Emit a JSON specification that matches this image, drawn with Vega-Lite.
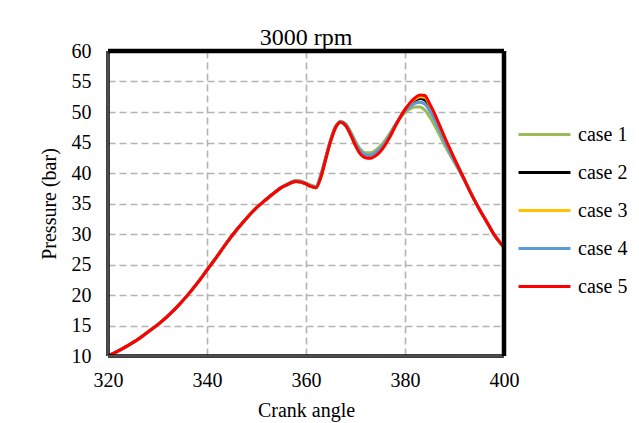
{
  "$schema": "https://vega.github.io/schema/vega-lite/v6.json",
  "autosize": "none",
  "width": 396,
  "height": 305,
  "padding": {"left": 108, "top": 51, "right": 135, "bottom": 67},
  "background": "white",
  "title": {"text": "3000 rpm", "font": "Liberation Serif", "fontSize": 24, "fontWeight": "normal", "color": "black", "offset": -9},
  "config": {
    "view": {"stroke": null},
    "axis": {
      "labelFont": "Liberation Serif", "labelFontSize": 20, "labelColor": "black",
      "titleFont": "Liberation Serif", "titleFontSize": 20, "titleFontWeight": "normal", "titleColor": "black",
      "domain": false, "ticks": false, "labelOverlap": false, "labelFlush": false,
      "gridColor": "#b3b3b3", "gridDash": [7, 4], "gridWidth": 1.6
    },
    "axisX": {"labelPadding": 14, "titlePadding": 10, "tickCount": 4},
    "axisY": {"labelPadding": 17, "titlePadding": 12, "tickCount": 11},
    "legend": {"labelFont": "Liberation Serif", "labelFontSize": 20, "labelColor": "black"}
  },
  "datasets": {
    "curves": [
      {"x": 320, "case 1": 10, "case 2": 10, "case 3": 10, "case 4": 10, "case 5": 10},
      {"x": 322, "case 1": 10.8, "case 2": 10.8, "case 3": 10.8, "case 4": 10.8, "case 5": 10.8},
      {"x": 324, "case 1": 11.7, "case 2": 11.7, "case 3": 11.7, "case 4": 11.7, "case 5": 11.7},
      {"x": 326, "case 1": 12.7, "case 2": 12.7, "case 3": 12.7, "case 4": 12.7, "case 5": 12.7},
      {"x": 328, "case 1": 13.9, "case 2": 13.9, "case 3": 13.9, "case 4": 13.9, "case 5": 13.9},
      {"x": 330, "case 1": 15.1, "case 2": 15.1, "case 3": 15.1, "case 4": 15.1, "case 5": 15.1},
      {"x": 332, "case 1": 16.5, "case 2": 16.5, "case 3": 16.5, "case 4": 16.5, "case 5": 16.5},
      {"x": 334, "case 1": 18.1, "case 2": 18.1, "case 3": 18.1, "case 4": 18.1, "case 5": 18.1},
      {"x": 336, "case 1": 19.9, "case 2": 19.9, "case 3": 19.9, "case 4": 19.9, "case 5": 19.9},
      {"x": 338, "case 1": 21.9, "case 2": 21.9, "case 3": 21.9, "case 4": 21.9, "case 5": 21.9},
      {"x": 340, "case 1": 24.1, "case 2": 24.1, "case 3": 24.1, "case 4": 24.1, "case 5": 24.1},
      {"x": 342, "case 1": 26.3, "case 2": 26.3, "case 3": 26.3, "case 4": 26.3, "case 5": 26.3},
      {"x": 344, "case 1": 28.6, "case 2": 28.6, "case 3": 28.6, "case 4": 28.6, "case 5": 28.6},
      {"x": 346, "case 1": 30.7, "case 2": 30.7, "case 3": 30.7, "case 4": 30.7, "case 5": 30.7},
      {"x": 348, "case 1": 32.6, "case 2": 32.6, "case 3": 32.6, "case 4": 32.6, "case 5": 32.6},
      {"x": 350, "case 1": 34.3, "case 2": 34.3, "case 3": 34.3, "case 4": 34.3, "case 5": 34.3},
      {"x": 352, "case 1": 35.7, "case 2": 35.7, "case 3": 35.7, "case 4": 35.7, "case 5": 35.7},
      {"x": 354, "case 1": 37.0, "case 2": 37.0, "case 3": 37.0, "case 4": 37.0, "case 5": 37.0},
      {"x": 355, "case 1": 37.6, "case 2": 37.6, "case 3": 37.6, "case 4": 37.6, "case 5": 37.6},
      {"x": 356, "case 1": 38.1, "case 2": 38.0, "case 3": 38.0, "case 4": 38.0, "case 5": 38.0},
      {"x": 357, "case 1": 38.5, "case 2": 38.4, "case 3": 38.4, "case 4": 38.5, "case 5": 38.4},
      {"x": 358, "case 1": 38.8, "case 2": 38.6, "case 3": 38.6, "case 4": 38.7, "case 5": 38.6},
      {"x": 359, "case 1": 38.7, "case 2": 38.5, "case 3": 38.5, "case 4": 38.6, "case 5": 38.5},
      {"x": 360, "case 1": 38.4, "case 2": 38.2, "case 3": 38.2, "case 4": 38.3, "case 5": 38.2},
      {"x": 361, "case 1": 38.0, "case 2": 37.8, "case 3": 37.8, "case 4": 37.9, "case 5": 37.8},
      {"x": 362, "case 1": 37.8, "case 2": 37.6, "case 3": 37.6, "case 4": 37.7, "case 5": 37.6},
      {"x": 363, "case 1": 39.8, "case 2": 39.4, "case 3": 39.3, "case 4": 39.6, "case 5": 39.3},
      {"x": 364, "case 1": 42.7, "case 2": 42.4, "case 3": 42.3, "case 4": 42.5, "case 5": 42.3},
      {"x": 365, "case 1": 45.6, "case 2": 45.3, "case 3": 45.3, "case 4": 45.4, "case 5": 45.3},
      {"x": 366, "case 1": 47.7, "case 2": 47.5, "case 3": 47.5, "case 4": 47.6, "case 5": 47.5},
      {"x": 367, "case 1": 48.5, "case 2": 48.3, "case 3": 48.3, "case 4": 48.4, "case 5": 48.3},
      {"x": 368, "case 1": 48.1, "case 2": 47.8, "case 3": 47.8, "case 4": 48.0, "case 5": 47.8},
      {"x": 369, "case 1": 46.8, "case 2": 46.4, "case 3": 46.3, "case 4": 46.6, "case 5": 46.3},
      {"x": 370, "case 1": 45.2, "case 2": 44.6, "case 3": 44.5, "case 4": 44.9, "case 5": 44.5},
      {"x": 371, "case 1": 43.9, "case 2": 43.2, "case 3": 43.1, "case 4": 43.6, "case 5": 43.1},
      {"x": 372, "case 1": 43.3, "case 2": 42.7, "case 3": 42.6, "case 4": 43.0, "case 5": 42.5},
      {"x": 373, "case 1": 43.3, "case 2": 42.6, "case 3": 42.5, "case 4": 42.9, "case 5": 42.4},
      {"x": 374, "case 1": 43.7, "case 2": 43.0, "case 3": 42.9, "case 4": 43.3, "case 5": 42.8},
      {"x": 375, "case 1": 44.4, "case 2": 43.7, "case 3": 43.6, "case 4": 44.0, "case 5": 43.5},
      {"x": 376, "case 1": 45.4, "case 2": 44.8, "case 3": 44.7, "case 4": 45.0, "case 5": 44.6},
      {"x": 377, "case 1": 46.6, "case 2": 46.1, "case 3": 46.0, "case 4": 46.3, "case 5": 46.0},
      {"x": 378, "case 1": 47.9, "case 2": 47.7, "case 3": 47.6, "case 4": 47.8, "case 5": 47.6},
      {"x": 379, "case 1": 49.0, "case 2": 49.1, "case 3": 49.1, "case 4": 49.1, "case 5": 49.1},
      {"x": 380, "case 1": 49.9, "case 2": 50.4, "case 3": 50.4, "case 4": 50.2, "case 5": 50.4},
      {"x": 381, "case 1": 50.5, "case 2": 51.3, "case 3": 51.4, "case 4": 50.9, "case 5": 51.5},
      {"x": 382, "case 1": 50.8, "case 2": 51.9, "case 3": 52.1, "case 4": 51.4, "case 5": 52.3},
      {"x": 383, "case 1": 50.8, "case 2": 52.2, "case 3": 52.5, "case 4": 51.6, "case 5": 52.8},
      {"x": 384, "case 1": 50.3, "case 2": 52.0, "case 3": 52.4, "case 4": 51.3, "case 5": 52.7},
      {"x": 385, "case 1": 49.2, "case 2": 50.9, "case 3": 51.1, "case 4": 50.2, "case 5": 51.3},
      {"x": 386, "case 1": 47.8, "case 2": 49.3, "case 3": 49.5, "case 4": 48.7, "case 5": 49.7},
      {"x": 387, "case 1": 46.2, "case 2": 47.5, "case 3": 47.7, "case 4": 47.0, "case 5": 47.8},
      {"x": 388, "case 1": 44.6, "case 2": 45.6, "case 3": 45.8, "case 4": 45.2, "case 5": 45.9},
      {"x": 389, "case 1": 43.1, "case 2": 43.9, "case 3": 44.0, "case 4": 43.5, "case 5": 44.1},
      {"x": 390, "case 1": 41.7, "case 2": 42.2, "case 3": 42.3, "case 4": 41.9, "case 5": 42.3},
      {"x": 391, "case 1": 40.3, "case 2": 40.6, "case 3": 40.6, "case 4": 40.4, "case 5": 40.6},
      {"x": 392, "case 1": 38.8, "case 2": 38.9, "case 3": 38.9, "case 4": 38.8, "case 5": 38.9},
      {"x": 393, "case 1": 37.2, "case 2": 37.2, "case 3": 37.2, "case 4": 37.2, "case 5": 37.2},
      {"x": 394, "case 1": 35.6, "case 2": 35.6, "case 3": 35.6, "case 4": 35.6, "case 5": 35.6},
      {"x": 395, "case 1": 34.1, "case 2": 34.1, "case 3": 34.1, "case 4": 34.1, "case 5": 34.1},
      {"x": 396, "case 1": 32.7, "case 2": 32.7, "case 3": 32.7, "case 4": 32.7, "case 5": 32.7},
      {"x": 397, "case 1": 31.3, "case 2": 31.3, "case 3": 31.3, "case 4": 31.3, "case 5": 31.3},
      {"x": 398, "case 1": 29.9, "case 2": 29.9, "case 3": 29.9, "case 4": 29.9, "case 5": 29.9},
      {"x": 399, "case 1": 28.8, "case 2": 28.8, "case 3": 28.8, "case 4": 28.8, "case 5": 28.8},
      {"x": 400, "case 1": 27.8, "case 2": 27.8, "case 3": 27.8, "case 4": 27.8, "case 5": 27.8}
    ]
  },
  "layer": [
    {
      "data": {"name": "curves"},
      "transform": [{"fold": ["case 1", "case 2", "case 3", "case 4", "case 5"], "as": ["series", "p"]}],
      "mark": {"type": "line", "strokeWidth": 3, "interpolate": "monotone", "clip": true},
      "encoding": {
        "x": {"field": "x", "type": "quantitative", "scale": {"domain": [320, 400], "nice": false, "zero": false},
          "axis": {"title": "Crank angle"}},
        "y": {"field": "p", "type": "quantitative", "scale": {"domain": [10, 60], "nice": false, "zero": false},
          "axis": {"title": "Pressure (bar)"}},
        "color": {"field": "series", "type": "nominal",
          "scale": {"domain": ["case 1", "case 2", "case 3", "case 4", "case 5"], "range": ["#9BBB59", "#000000", "#FFC000", "#5B9BD5", "#FF0000"]},
          "legend": {"title": null, "orient": "none", "legendX": 409, "legendY": 56, "symbolType": "stroke", "symbolSize": 2700, "symbolStrokeWidth": 3, "labelOffset": 6, "rowPadding": 0}}
      }
    },
    {
      "data": {"values": [{}]},
      "mark": {"type": "rule", "color": "black", "strokeWidth": 3.5},
      "encoding": {"x": {"datum": 320, "type": "quantitative"}}
    },
    {
      "data": {"values": [{}]},
      "mark": {"type": "rule", "color": "#9a9a9a", "strokeWidth": 1},
      "encoding": {"x": {"datum": 320, "type": "quantitative"}}
    },
    {
      "data": {"values": [{}]},
      "mark": {"type": "rule", "color": "black", "strokeWidth": 3.5},
      "encoding": {"y": {"datum": 10, "type": "quantitative"}}
    },
    {
      "data": {"values": [{}]},
      "mark": {"type": "rule", "color": "#9a9a9a", "strokeWidth": 1},
      "encoding": {"y": {"datum": 10, "type": "quantitative"}}
    },
    {
      "data": {"values": [{}]},
      "mark": {"type": "rule", "color": "black", "strokeWidth": 4.5},
      "encoding": {"y": {"datum": 60, "type": "quantitative"}}
    },
    {
      "data": {"values": [{}]},
      "mark": {"type": "rule", "color": "black", "strokeWidth": 4.5},
      "encoding": {"x": {"datum": 400, "type": "quantitative"}}
    }
  ]
}
